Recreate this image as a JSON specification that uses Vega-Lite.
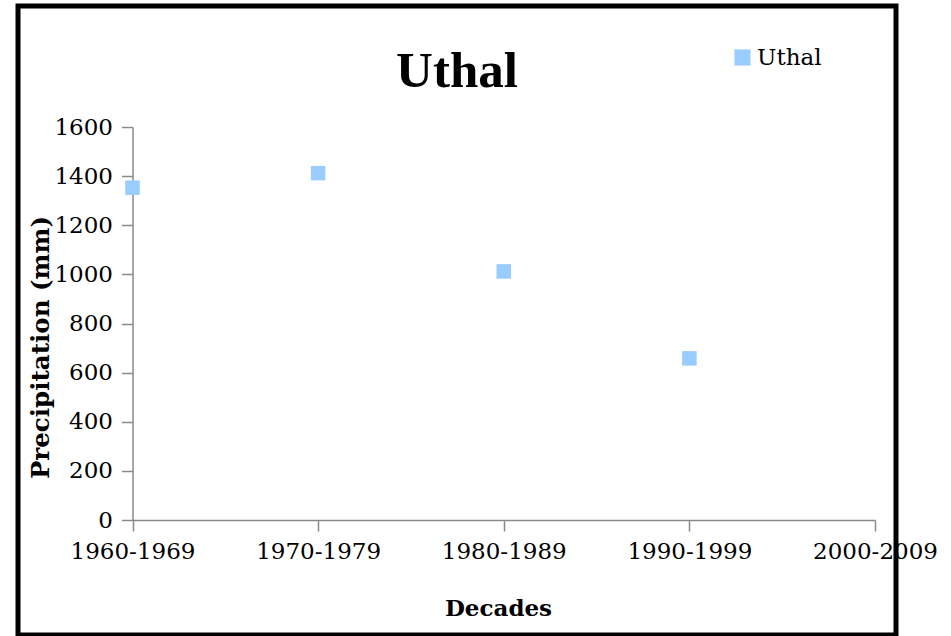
{
  "$schema": "https://vega.github.io/schema/vega-lite/v6.json",
  "width": 878,
  "height": 629,
  "autosize": {"type": "none"},
  "padding": {"left": 18, "top": 6, "right": 55, "bottom": 1},
  "background": "white",
  "config": {
    "view": {"stroke": "black", "strokeWidth": 5, "fill": "white"}
  },
  "title": {
    "text": "Uthal",
    "font": "Liberation Serif",
    "fontSize": 51,
    "fontWeight": "bold",
    "color": "black",
    "anchor": "middle",
    "frame": "group",
    "baseline": "alphabetic",
    "offset": 0,
    "dy": 132
  },
  "data": {
    "values": [
      {"decade": "1960-1969", "precip": 1353, "station": "Uthal"},
      {"decade": "1970-1979", "precip": 1412, "station": "Uthal"},
      {"decade": "1980-1989", "precip": 1012, "station": "Uthal"},
      {"decade": "1990-1999", "precip": 658, "station": "Uthal"}
    ]
  },
  "mark": {"type": "point", "shape": "square", "filled": true, "size": 210, "opacity": 1},
  "encoding": {
    "x": {
      "field": "decade",
      "type": "ordinal",
      "scale": {
        "type": "point",
        "domain": ["1960-1969", "1970-1979", "1980-1989", "1990-1999", "2000-2009"],
        "range": [114.5, 857],
        "padding": 0
      },
      "axis": {
        "orient": "bottom",
        "offset": -115,
        "labelAngle": 0,
        "tickSize": 11,
        "tickColor": "#8a8a8a",
        "domainColor": "#8a8a8a",
        "domainWidth": 1.5,
        "tickWidth": 1.5,
        "labelFont": "DejaVu Serif",
        "labelFontSize": 23,
        "labelColor": "black",
        "labelPadding": 9,
        "labelOverlap": false,
        "labelFlush": false,
        "grid": false,
        "title": "Decades",
        "titleFont": "DejaVu Serif",
        "titleFontWeight": "bold",
        "titleFontSize": 23,
        "titleColor": "black",
        "titleX": 480,
        "titleY": 95,
        "titleAlign": "center",
        "titleBaseline": "alphabetic"
      }
    },
    "y": {
      "field": "precip",
      "type": "quantitative",
      "scale": {"domain": [0, 1600], "range": [514, 121], "nice": false, "zero": true},
      "axis": {
        "orient": "left",
        "offset": -114.5,
        "values": [0, 200, 400, 600, 800, 1000, 1200, 1400, 1600],
        "format": "d",
        "tickSize": 11,
        "tickColor": "#8a8a8a",
        "domainColor": "#8a8a8a",
        "domainWidth": 1.5,
        "tickWidth": 1.5,
        "labelFont": "DejaVu Serif",
        "labelFontSize": 23,
        "labelColor": "black",
        "labelPadding": 9,
        "labelOverlap": false,
        "grid": false,
        "title": "Precipitation (mm)",
        "titleFont": "DejaVu Serif",
        "titleFontWeight": "bold",
        "titleFontSize": 24.5,
        "titleColor": "black",
        "titleAngle": -90,
        "titleX": -84.5,
        "titleY": 341,
        "titleAlign": "center",
        "titleBaseline": "alphabetic"
      }
    },
    "color": {
      "field": "station",
      "type": "nominal",
      "scale": {"range": ["#99CCFF"]},
      "legend": {
        "orient": "none",
        "legendX": 713,
        "legendY": 40,
        "title": null,
        "padding": 0,
        "symbolType": "square",
        "symbolSize": 260,
        "symbolStrokeWidth": 0,
        "labelFont": "DejaVu Serif",
        "labelFontSize": 23,
        "labelColor": "black",
        "labelOffset": 3
      }
    }
  }
}
